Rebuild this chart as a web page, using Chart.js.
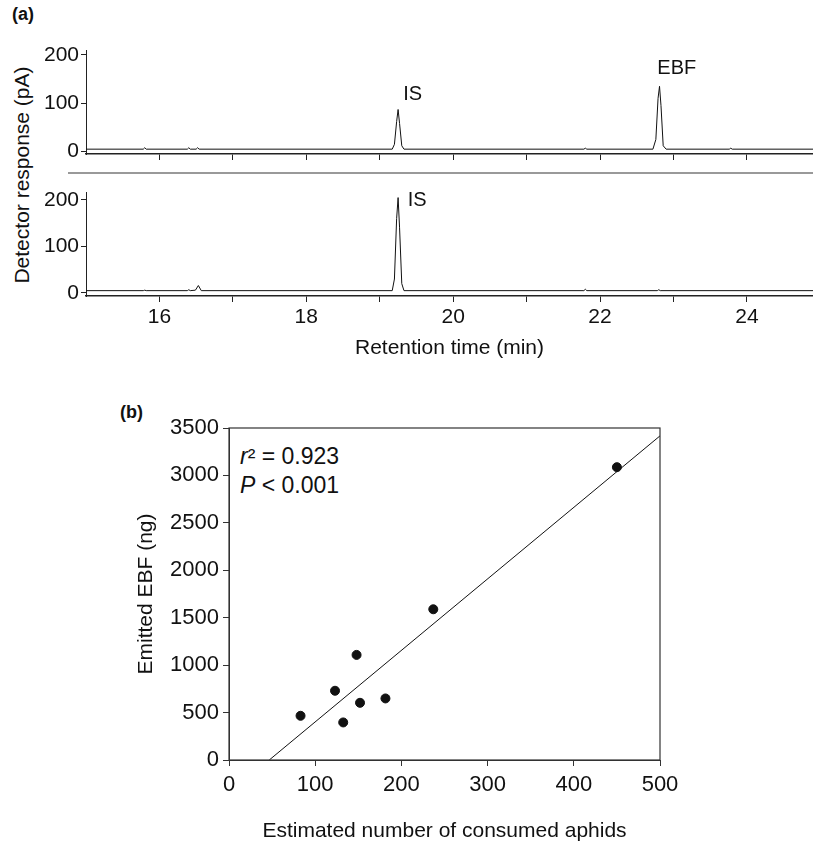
<!DOCTYPE html>
<html><head><meta charset="utf-8">
<script src="https://cdn.jsdelivr.net/npm/chart.js@4.4.0/dist/chart.umd.min.js"></script>
<style>
body{margin:0;background:#fff;font-family:'Liberation Sans',Arial,sans-serif;}
#wrap{position:relative;width:813px;height:848px;}
.box{position:absolute;}
.t{position:absolute;color:#111;white-space:nowrap;}
</style></head><body>
<div id="wrap">
  <div class="t" style="left:12px;top:4px;font-weight:bold;font-size:18px;">(a)</div>
  <div class="t" style="left:22px;top:175px;font-size:21px;transform:translate(-50%,-50%) rotate(-90deg);">Detector response (pA)</div>
  <div class="box" style="left:0;top:0;width:813px;height:170px;"><canvas id="topC"></canvas></div>
  <div style="position:absolute;left:68px;top:172px;width:745px;height:2px;background:#999;"></div>
  <div class="box" style="left:0;top:175px;width:813px;height:190px;"><canvas id="botC"></canvas></div>
  <div class="t" style="left:120px;top:402px;font-weight:bold;font-size:18px;">(b)</div>
  <div class="t" style="left:240px;top:442px;font-size:23px;line-height:29px;"><i>r</i>² = 0.923<br><i>P</i> &lt; 0.001</div>
  <div class="box" style="left:130px;top:390px;width:560px;height:458px;"><canvas id="scat"></canvas></div>
</div>
<script>
// chromatogram, sample with prey (top)
const topTime = [15.0,15.78,15.8,15.82,16.38,16.4,16.42,16.5,16.52,16.54,19.17,19.2,19.23,19.25,19.27,19.3,19.33,21.78,21.8,21.82,22.72,22.76,22.79,22.81,22.83,22.86,22.9,23.76,23.78,23.8,24.9];
const topResp = [5,5,8,5,5,8,5,5,8,5,5,15,62,87,58,12,5,5,7,5,5,25,110,135,95,12,5,5,7,5,5];
// chromatogram, control (bottom)
const botTime = [15.0,15.78,15.8,15.82,16.38,16.4,16.42,16.49,16.53,16.57,19.17,19.2,19.23,19.25,19.27,19.3,19.33,21.78,21.8,21.82,22.78,22.8,22.82,24.9];
const botResp = [5,5,6,5,5,7,5,6,16,5,5,30,160,205,140,20,5,5,8,5,5,7,5,5];
// regression panel
const aphids = [83,123,132.5,148,152,181.5,237,450];
const ebf = [466,730,396,1108,603,649,1589,3087];
const fitX = [46.7,500];
const fitY = [0,3417];

const pts = (xs, ys) => xs.map((x, i) => ({x: x, y: ys[i]}));
const fam = "'Liberation Sans',Arial";

const peakLabels = {
  id: 'peakLabels',
  afterDatasetsDraw(chart, args, opts) {
    const c = chart.ctx;
    c.save();
    c.font = '20px ' + fam;
    c.fillStyle = '#111';
    c.textAlign = 'left';
    c.textBaseline = 'middle';
    (opts.items || []).forEach(it => {
      c.fillText(it.text, chart.scales.x.getPixelForValue(it.x), chart.scales.y.getPixelForValue(it.y));
    });
    c.restore();
  }
};

function chromOptions(ymin, ymax, padTop, xHeight, showX, labels) {
  return {
    responsive: true, maintainAspectRatio: false, animation: false,
    layout: {padding: {top: padTop, right: 0, left: 0, bottom: 0}},
    plugins: {legend: {display: false}, tooltip: {enabled: false}, peakLabels: {items: labels}},
    elements: {point: {radius: 0}, line: {borderWidth: 1, tension: 0}},
    scales: {
      x: {
        type: 'linear', min: 15, max: 24.9,
        afterFit: s => { s.height = xHeight; },
        afterBuildTicks: s => { s.ticks = [16,17,18,19,20,21,22,23,24].map(v => ({value: v})); },
        border: {color: '#222', width: 1.5},
        grid: {drawOnChartArea: false, tickLength: 6, color: '#222'},
        ticks: {display: showX, color: '#111', font: {size: 21, family: fam},
                callback: v => (v % 2 === 0 ? v : '')},
        title: {display: showX, text: 'Retention time (min)', color: '#111', font: {size: 21, family: fam}}
      },
      y: {
        min: ymin, max: ymax,
        afterFit: s => { s.width = 86; },
        afterBuildTicks: s => { s.ticks = [0,100,200].map(v => ({value: v})); },
        border: {color: '#222', width: 1},
        grid: {drawOnChartArea: false, tickLength: 5, color: '#222'},
        ticks: {color: '#111', font: {size: 21, family: fam}, padding: 2}
      }
    }
  };
}

new Chart(document.getElementById('topC'), {
  type: 'line',
  data: {datasets: [{data: pts(topTime, topResp), borderColor: '#111'}]},
  options: chromOptions(-5, 210, 50, 16, false,
    [{text: 'IS', x: 19.32, y: 118}, {text: 'EBF', x: 22.78, y: 172}]),
  plugins: [peakLabels]
});

new Chart(document.getElementById('botC'), {
  type: 'line',
  data: {datasets: [{data: pts(botTime, botResp), borderColor: '#111'}]},
  options: chromOptions(-6.5, 217, 17, 69, true, [{text: 'IS', x: 19.38, y: 198}]),
  plugins: [peakLabels]
});

const frame = {
  id: 'frame',
  afterDraw(chart) {
    const a = chart.chartArea, c = chart.ctx;
    c.save();
    c.strokeStyle = '#333';
    c.lineWidth = 1.2;
    c.strokeRect(a.left, a.top, a.right - a.left, a.bottom - a.top);
    c.restore();
  }
};

new Chart(document.getElementById('scat'), {
  type: 'scatter',
  data: {datasets: [
    {data: pts(aphids, ebf), backgroundColor: '#111', borderColor: '#111', pointRadius: 4.5},
    {type: 'line', data: pts(fitX, fitY), borderColor: '#111', borderWidth: 1, pointRadius: 0}
  ]},
  options: {
    responsive: true, maintainAspectRatio: false, animation: false,
    layout: {padding: {top: 38, right: 30, left: 0, bottom: 0}},
    plugins: {legend: {display: false}, tooltip: {enabled: false}},
    scales: {
      x: {
        min: 0, max: 500,
        afterFit: s => { s.height = 88; },
        grid: {drawOnChartArea: false, tickLength: 6, color: '#333'},
        border: {color: '#333'},
        ticks: {stepSize: 100, color: '#111', font: {size: 22}, padding: 6},
        title: {display: true, text: 'Estimated number of consumed aphids', color: '#111', font: {size: 21}, padding: {top: 12}}
      },
      y: {
        min: 0, max: 3500,
        afterFit: s => { s.width = 99; },
        grid: {drawOnChartArea: false, tickLength: 6, color: '#333'},
        border: {color: '#333'},
        ticks: {stepSize: 500, color: '#111', font: {size: 22}, padding: 4,
                callback: v => String(v)},
        title: {display: true, text: 'Emitted EBF (ng)', color: '#111', font: {size: 21}, padding: {bottom: 4}}
      }
    }
  },
  plugins: [frame]
});
</script>
</body></html>
